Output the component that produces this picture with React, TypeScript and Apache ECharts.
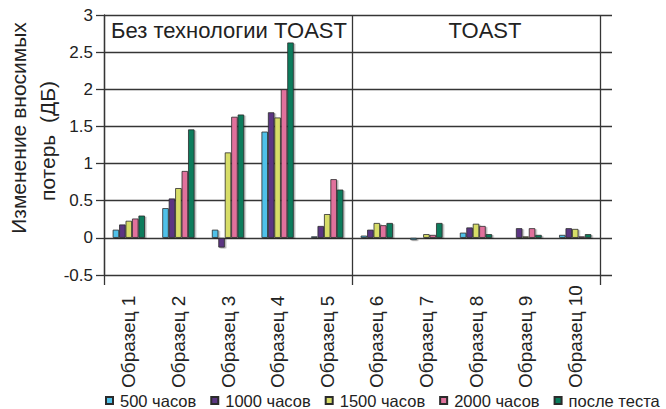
import React, { useEffect, useRef } from "react";
import * as echarts from "echarts";

const categories = [
  "Образец 1", "Образец 2", "Образец 3", "Образец 4", "Образец 5",
  "Образец 6", "Образец 7", "Образец 8", "Образец 9", "Образец 10",
];
const seriesNames = ["500 часов", "1000 часов", "1500 часов", "2000 часов", "после теста"];
const s500 = [0.11, 0.40, 0.11, 1.43, 0.02, 0.03, -0.03, 0.07, 0.01, 0.04];
const s1000 = [0.18, 0.53, -0.13, 1.69, 0.16, 0.11, 0.01, 0.14, 0.13, 0.13];
const s1500 = [0.23, 0.67, 1.15, 1.62, 0.32, 0.20, 0.05, 0.19, 0.02, 0.12];
const s2000 = [0.26, 0.90, 1.63, 2.00, 0.79, 0.17, 0.04, 0.16, 0.13, 0.02];
const sAfter = [0.30, 1.46, 1.66, 2.63, 0.65, 0.20, 0.20, 0.05, 0.04, 0.05];
const seriesData = [s500, s1000, s1500, s2000, sAfter];
const colors = ["#4fc1e9", "#5b3682", "#d7dd67", "#e1719c", "#087c5c"];
const groupTitles = ["Без технологии TOAST", "TOAST"];
const yTitleLines = ["Изменение вносимых", "потерь  (ДБ)"];

const FONT = "'Liberation Sans', Arial, Helvetica, sans-serif";
const LINE = "#353535";

export default function App() {
  const ref = useRef<HTMLDivElement>(null);
  useEffect(() => {
    if (!ref.current) return;
    const chart = echarts.init(ref.current, undefined, { renderer: "svg" });
    const option: any = {
      animation: false,
      backgroundColor: "#ffffff",
      textStyle: { fontFamily: FONT, color: "#222" },
      grid: [
        { left: 104, top: 15, width: 496, height: 260 },
        { left: 104, top: 15, width: 508, height: 260 },
      ],
      xAxis: [
        {
          type: "category",
          gridIndex: 0,
          data: categories,
          position: "bottom",
          axisLine: { show: false, onZero: false },
          axisTick: { show: false },
          splitLine: { show: false },
          axisLabel: {
            rotate: 90,
            align: "left",
            verticalAlign: "middle",
            margin: 113,
            fontSize: 19,
            fontFamily: FONT,
            color: "#222",
            interval: 0,
          },
        },
        {
          type: "value",
          gridIndex: 0,
          min: 0,
          max: 2,
          interval: 1,
          position: "bottom",
          axisLine: { show: false, onZero: false },
          axisTick: { show: true, length: 10, lineStyle: { color: LINE, width: 1.3 } },
          axisLabel: { show: false },
          splitLine: { show: true, lineStyle: { color: LINE, width: 1.3 } },
        },
        {
          type: "value",
          gridIndex: 1,
          min: 0,
          max: 1,
          show: false,
        },
      ],
      yAxis: [
        {
          type: "value",
          gridIndex: 0,
          min: -0.5,
          max: 3,
          interval: 0.5,
          axisLine: { show: true, lineStyle: { color: LINE, width: 1.3 } },
          axisTick: { show: true, length: 8, lineStyle: { color: LINE, width: 1.3 } },
          axisLabel: { fontSize: 17, fontFamily: FONT, color: "#222", margin: 11 },
          splitLine: { show: false },
        },
        {
          type: "value",
          gridIndex: 1,
          min: -0.5,
          max: 3,
          interval: 0.5,
          axisLine: { show: false },
          axisTick: { show: false },
          axisLabel: { show: false },
          splitLine: { show: true, lineStyle: { color: LINE, width: 1.3 } },
        },
      ],
      legend: {
        top: 392,
        left: 105,
        width: 600,
        padding: 0,
        itemWidth: 7,
        itemHeight: 7,
        itemGap: 14,
        icon: "rect",
        textStyle: {
          fontSize: 16.5,
          fontFamily: FONT,
          color: "#222",
          padding: [0, 0, 0, 2],
          lineHeight: 17,
        },
        data: seriesNames,
      },
      graphic: [
        {
          type: "text",
          x: 229,
          y: 30,
          style: {
            text: groupTitles[0],
            fontSize: 22,
            fontFamily: FONT,
            fill: "#222",
            textAlign: "center",
            textVerticalAlign: "middle",
          },
        },
        {
          type: "text",
          x: 485,
          y: 30,
          style: {
            text: groupTitles[1],
            fontSize: 22,
            fontFamily: FONT,
            fill: "#222",
            textAlign: "center",
            textVerticalAlign: "middle",
          },
        },
        {
          type: "text",
          x: 18,
          y: 128,
          rotation: Math.PI / 2,
          style: {
            text: yTitleLines[0],
            fontSize: 21,
            fontFamily: FONT,
            fill: "#222",
            textAlign: "center",
            textVerticalAlign: "middle",
          },
        },
        {
          type: "text",
          x: 47,
          y: 141,
          rotation: Math.PI / 2,
          style: {
            text: yTitleLines[1],
            fontSize: 21,
            fontFamily: FONT,
            fill: "#222",
            textAlign: "center",
            textVerticalAlign: "middle",
          },
        },
      ],
      series: seriesData.map((d, i) => ({
        name: seriesNames[i],
        type: "bar",
        xAxisIndex: 0,
        yAxisIndex: 0,
        data: d,
        barGap: "0%",
        barCategoryGap: "35%",
        z: 3,
        itemStyle: {
          color: colors[i],
          borderColor: "#2b2b2b",
          borderWidth: 0.8,
          shadowColor: "rgba(0,0,0,0.3)",
          shadowBlur: 1,
          shadowOffsetX: 1.5,
          shadowOffsetY: 1,
        },
      })),
    };
    chart.setOption(option);
    return () => chart.dispose();
  }, []);
  return (
    <div
      ref={ref}
      style={{ position: "absolute", left: 0, top: 0, width: 666, height: 409 }}
    />
  );
}
